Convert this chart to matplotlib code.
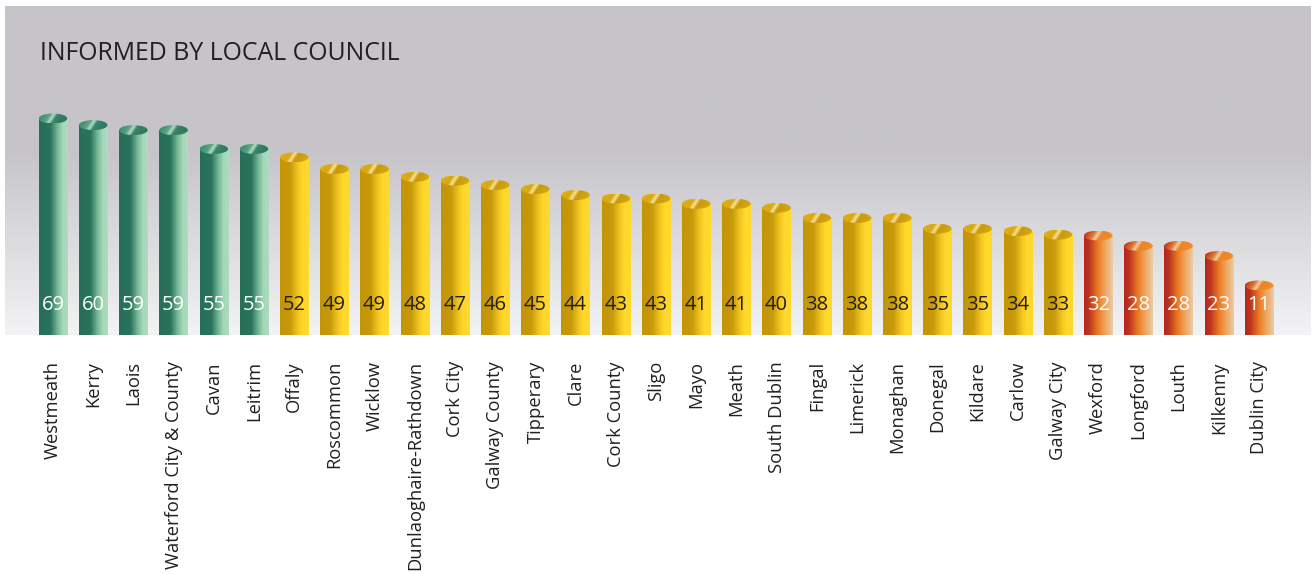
import numpy as np
import matplotlib
matplotlib.use("Agg")
import matplotlib.pyplot as plt
from matplotlib.patches import Ellipse
from matplotlib.colors import LinearSegmentedColormap, to_rgb
import matplotlib.transforms as mtransforms

plt.rcParams['font.family'] = ['Open Sans', 'DejaVu Sans']

# ---------------- data ----------------
categories = ["Westmeath", "Kerry", "Laois", "Waterford City & County", "Cavan", "Leitrim",
              "Offaly", "Roscommon", "Wicklow", "Dunlaoghaire-Rathdown", "Cork City",
              "Galway County", "Tipperary", "Clare", "Cork County", "Sligo", "Mayo", "Meath",
              "South Dublin", "Fingal", "Limerick", "Monaghan", "Donegal", "Kildare", "Carlow",
              "Galway City", "Wexford", "Longford", "Louth", "Kilkenny", "Dublin City"]
values = [69, 60, 59, 59, 55, 55, 52, 49, 49, 48, 47, 46, 45, 44, 43, 43, 41, 41, 40,
          38, 38, 38, 35, 35, 34, 33, 32, 28, 28, 23, 11]
# drawn bar heights (not proportional to the printed labels)
bar_heights = [69.0, 66.9, 65.3, 65.3, 59.3, 59.3, 56.6, 52.9, 52.9, 50.4, 49.2, 47.8,
               46.5, 44.6, 43.5, 43.5, 41.8, 41.8, 40.5, 37.3, 37.3, 37.3, 33.9, 33.9,
               33.1, 32.0, 31.7, 28.4, 28.4, 25.2, 15.8]
groups = ["green"] * 6 + ["yellow"] * 20 + ["red"] * 5
title = "INFORMED BY LOCAL COUNCIL"

# ---------------- styles ----------------
body_stops = {
    "green": [(0.0, "#26705a"), (0.40, "#2a745d"), (0.62, "#6fb291"), (0.82, "#a6d7ba"), (1.0, "#acdbbf")],
    "yellow": [(0.0, "#c49407"), (0.35, "#c69a0a"), (0.62, "#f2c51f"), (0.78, "#ffd82b"), (1.0, "#ffd92e")],
    "red": [(0.0, "#b3261e"), (0.18, "#bd3320"), (0.48, "#ec7a22"), (0.70, "#f0a057"), (1.0, "#e9cda8")],
}
top_stops = {
    "green": [(0.0, "#3f8c6e"), (0.30, "#5aa283"), (0.44, "#b4ddc6"), (0.56, "#3a8468"), (1.0, "#2d7660")],
    "yellow": [(0.0, "#e0ae12"), (0.30, "#d9a810"), (0.44, "#f7e39a"), (0.56, "#c89a0c"), (1.0, "#d6a812")],
    "red": [(0.0, "#c03a20"), (0.30, "#e07a35"), (0.44, "#f3cfac"), (0.56, "#ec8428"), (1.0, "#ef8d2c")],
}
label_color = {"green": "white", "yellow": "#231f20", "red": "white"}

W, H, DPI = 1313, 574, 100
fig = plt.figure(figsize=(W / DPI, H / DPI), dpi=DPI)
fig.patch.set_facecolor("white")

px_left, px_right, px_top, px_bottom = 5, 1310, 6, 335
ax = fig.add_axes([px_left / W, 1 - px_bottom / H, (px_right - px_left) / W, (px_bottom - px_top) / H])
ax.set_axis_off()

step_px = 40.2
first_px = 53
x = np.arange(len(categories))
ax.set_xlim((px_left - first_px) / step_px, (px_right - first_px) / step_px)
unit_px = 3.1377
ymax = (px_bottom - px_top) / unit_px
ax.set_ylim(0, ymax)

# background gradient
ny = 400
yy = np.linspace(1, 0, ny)
top_c = np.array(to_rgb("#c6c4c9"))
bot_c = np.array(to_rgb("#f2f3f5"))
frac_px = (px_bottom - px_top) * (1 - yy)
start = 150 - px_top
t = np.clip((frac_px - start) / ((px_bottom - px_top) - start), 0, 1)
bg = top_c[None, :] * (1 - t[:, None]) + bot_c[None, :] * t[:, None]
bg = np.repeat(bg[:, None, :], 2, axis=1)
xl = ax.get_xlim()
ax.imshow(bg, extent=[xl[0], xl[1], 0, ymax], aspect="auto", zorder=0, interpolation="bilinear")

bw = 28.5 / step_px
ell_h = 10 / unit_px

cmaps_body = {k: LinearSegmentedColormap.from_list(k + "b", v) for k, v in body_stops.items()}
cmaps_top = {k: LinearSegmentedColormap.from_list(k + "t", v) for k, v in top_stops.items()}

grad = np.linspace(0, 1, 256)[None, :]
uu, vv = np.meshgrid(np.linspace(0, 1, 120), np.linspace(0, 1, 40))
s_top = np.clip(uu + 0.22 * (vv - 0.5), 0, 1)

for xi, h, v, g in zip(x, bar_heights, values, groups):
    x0, x1 = xi - bw / 2, xi + bw / 2
    ax.imshow(cmaps_body[g](grad), extent=[x0, x1, 0, h], aspect="auto",
              zorder=2, interpolation="bilinear")
    ell = Ellipse((xi, h), bw, ell_h, facecolor="none", edgecolor="none", zorder=3)
    ax.add_patch(ell)
    im = ax.imshow(cmaps_top[g](s_top), extent=[x0, x1, h - ell_h / 2, h + ell_h / 2],
                   aspect="auto", zorder=3, interpolation="bilinear")
    im.set_clip_path(ell)
    ax.text(xi, (px_bottom - 305) / unit_px, str(v), ha="center", va="center",
            fontsize=14.5, color=label_color[g], zorder=4)

ax.set_xlim(xl)
ax.set_ylim(0, ymax)

# category labels
trans = mtransforms.blended_transform_factory(ax.transData, fig.transFigure)
for xi, c in zip(x, categories):
    fig.text(xi, 1 - 361 / H, c, transform=trans, rotation=90, ha="center", va="top",
             fontsize=13.2, color="#231f20")

fig.text(40 / W, 1 - 60 / H, title, ha="left", va="baseline", fontsize=17.9, color="#231f20")

fig.savefig("out.png", dpi=DPI)
